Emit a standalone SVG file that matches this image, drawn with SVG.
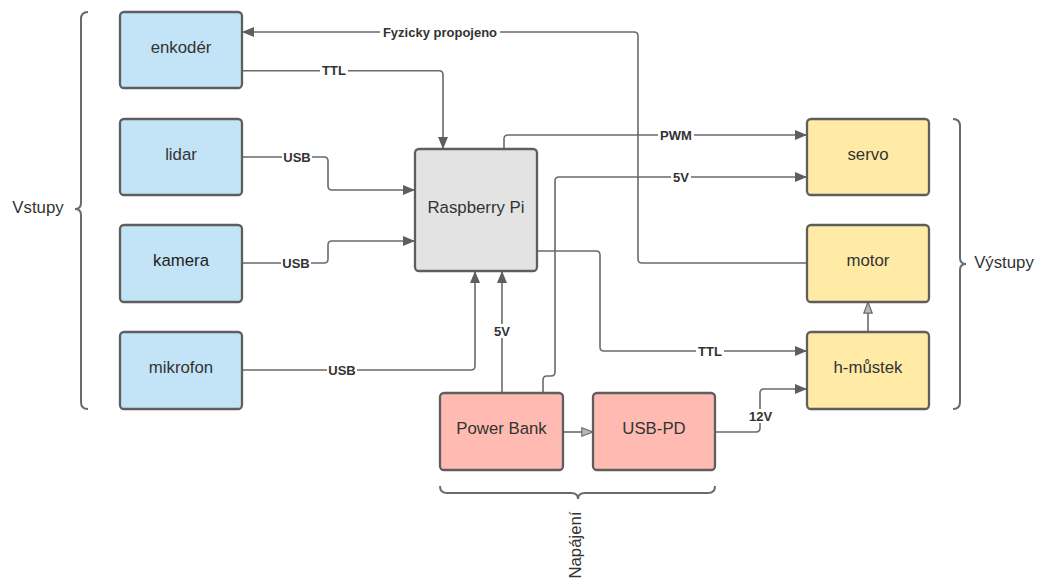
<svg xmlns="http://www.w3.org/2000/svg" width="1039" height="583" viewBox="0 0 1039 583">
<style>
.box{stroke:#5e5e5e;stroke-width:2.3}
.blue{fill:#c2e4f6}
.grey{fill:#e3e3e3}
.yellow{fill:#ffeaa6}
.red{fill:#ffbbb1}
.nl{font-family:"Liberation Sans",Arial,sans-serif;font-size:16.8px;fill:#333;text-anchor:middle}
.cl{font-family:"Liberation Sans",Arial,sans-serif;font-size:13px;font-weight:bold;fill:#333;text-anchor:middle}
.ln{fill:none;stroke:#6a6a6a;stroke-width:1.6;stroke-linejoin:round}
.bg{fill:#fff}
.br{fill:none;stroke:#6a6a6a;stroke-width:2}
</style>
<defs>
<marker id="ah" markerUnits="userSpaceOnUse" markerWidth="13" markerHeight="11" refX="12" refY="5" orient="auto">
<path d="M0,0 L12,5 L0,10 z" fill="#5e5e5e"/>
</marker>
<marker id="ahh" markerUnits="userSpaceOnUse" markerWidth="14" markerHeight="11" refX="12" refY="5" orient="auto">
<path d="M0.8,0.8 L12,5 L0.8,9.2 z" fill="#b8b8b8" stroke="#6a6a6a" stroke-width="1.2"/>
</marker>
</defs>

<g id="connectors">
<path class="ln" d="M807,263 L642,263 Q638,263 638,259 L638,36 Q638,32 634,32 L242,32" marker-end="url(#ah)"/>
<path class="ln" d="M242,70.7 L439,70.7 Q443,70.7 443,74.7 L443,149" marker-end="url(#ah)"/>
<path class="ln" d="M242,157 L324,157 Q328,157 328,161 L328,186 Q328,190 332,190 L415,190" marker-end="url(#ah)"/>
<path class="ln" d="M242,263 L324,263 Q328,263 328,259 L328,245 Q328,241 332,241 L415,241" marker-end="url(#ah)"/>
<path class="ln" d="M242,370 L471,370 Q475,370 475,366 L475,271" marker-end="url(#ah)"/>
<path class="ln" d="M502,393 L502,271" marker-end="url(#ah)"/>
<path class="ln" d="M504,149 L504,139 Q504,135 508,135 L807,135" marker-end="url(#ah)"/>
<path class="ln" d="M543,393 L543,380 Q543,376 547,376 L551,376 Q555,376 555,372 L555,181 Q555,177 559,177 L807,177" marker-end="url(#ah)"/>
<path class="ln" d="M537,251 L596,251 Q600,251 600,255 L600,347 Q600,351 604,351 L807,351" marker-end="url(#ah)"/>
<path class="ln" d="M868,332 L868,302" marker-end="url(#ahh)"/>
<path class="ln" d="M563,432 L593,432" marker-end="url(#ahh)"/>
<path class="ln" d="M715,432 L756,432 Q760,432 760,428 L760,393 Q760,389 764,389 L807,389" marker-end="url(#ah)"/>

<rect class="bg" x="380" y="25" width="120" height="14"/>
<text class="cl" x="440" y="36.7">Fyzicky propojeno</text>
<rect class="bg" x="320" y="64" width="28" height="14"/>
<text class="cl" x="334" y="75.4">TTL</text>
<rect class="bg" x="282" y="150" width="30" height="14"/>
<text class="cl" x="297" y="161.7">USB</text>
<rect class="bg" x="281" y="256" width="30" height="14"/>
<text class="cl" x="296" y="267.7">USB</text>
<rect class="bg" x="327" y="363" width="30" height="14"/>
<text class="cl" x="342" y="374.7">USB</text>
<rect class="bg" x="492" y="324" width="20" height="14"/>
<text class="cl" x="502" y="335.7">5V</text>
<rect class="bg" x="658" y="128" width="36" height="14"/>
<text class="cl" x="676" y="139.7">PWM</text>
<rect class="bg" x="671" y="170" width="20" height="14"/>
<text class="cl" x="681" y="181.7">5V</text>
<rect class="bg" x="696" y="344" width="28" height="14"/>
<text class="cl" x="710" y="355.7">TTL</text>
<rect class="bg" x="747" y="409" width="27" height="14"/>
<text class="cl" x="760.5" y="421">12V</text>
</g>

<g id="enkoder"><rect class="box blue" x="120" y="12" width="122" height="76" rx="4"/><text class="nl" x="181" y="52.7">enkodér</text></g>
<g id="lidar"><rect class="box blue" x="120" y="119" width="122" height="76" rx="4"/><text class="nl" x="181" y="159.7">lidar</text></g>
<g id="kamera"><rect class="box blue" x="120" y="225" width="122" height="77" rx="4"/><text class="nl" x="181" y="266.2" style="fill:#222">kamera</text></g>
<g id="mikrofon"><rect class="box blue" x="120" y="332" width="122" height="77" rx="4"/><text class="nl" x="181" y="373.2">mikrofon</text></g>
<g id="raspberry"><rect class="box grey" x="415" y="149" width="122" height="122" rx="4"/><text class="nl" x="476" y="213">Raspberry Pi</text></g>
<g id="servo"><rect class="box yellow" x="807" y="119" width="122" height="76" rx="4"/><text class="nl" x="868" y="159.7">servo</text></g>
<g id="motor"><rect class="box yellow" x="807" y="225" width="122" height="77" rx="4"/><text class="nl" x="868" y="266.2">motor</text></g>
<g id="hmustek"><rect class="box yellow" x="807" y="332" width="122" height="77" rx="4"/><text class="nl" x="868" y="373.2">h-můstek</text></g>
<g id="powerbank"><rect class="box red" x="440" y="393" width="123" height="77" rx="4"/><text class="nl" x="501.5" y="434.2">Power Bank</text></g>
<g id="usbpd"><rect class="box red" x="593" y="393" width="122" height="77" rx="4"/><text class="nl" x="654" y="434.2">USB-PD</text></g>

<g id="vstupy">
<path class="br" d="M88,12 Q81,12 81,19 L81,203 Q81,209 75,209 Q81,209 81,215 L81,402 Q81,409 88,409"/>
<text class="nl" x="38" y="213">Vstupy</text>
</g>
<g id="vystupy">
<path class="br" d="M953,119 Q960,119 960,126 L960,258 Q960,264 966,264 Q960,264 960,270 L960,402 Q960,409 953,409"/>
<text class="nl" x="1004" y="268">Výstupy</text>
</g>
<g id="napajeni">
<path class="br" d="M440,486 Q440,493 447,493 L571,493 Q578,493 578,499 Q578,493 585,493 L708,493 Q715,493 715,486"/>
<text class="nl" transform="translate(581,545) rotate(-90)" x="0" y="0">Napájení</text>
</g>
</svg>
